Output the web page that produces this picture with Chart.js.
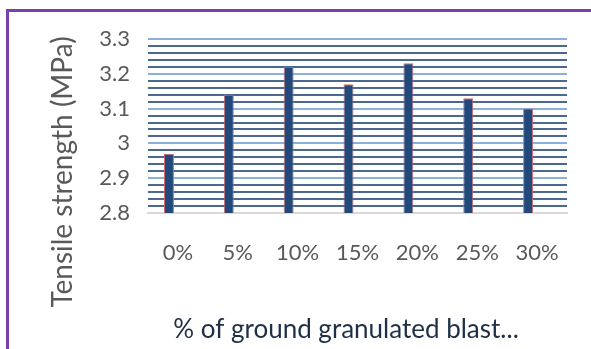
<!DOCTYPE html>
<html>
<head>
    <meta charset="utf-8">
    <title>Tensile strength</title>
    <script src="https://cdn.jsdelivr.net/npm/chart.js"></script>
</head>
<body style="margin:0; background-color:white;">
<div style="position:absolute; left:6px; top:9px; width:700px; height:500px; border-left:3px solid #7a40b0; border-top:3px solid #7a40b0;"></div>
<canvas id="myChart" width="591" height="349" style="position:absolute; left:0; top:0;"></canvas>
<script>
    const categories = ['0%', '5%', '10%', '15%', '20%', '25%', '30%'];
    const tensile = [2.97, 3.14, 3.22, 3.17, 3.23, 3.13, 3.10];
    const emptySeries = [null, null, null, null, null, null, null];
    const yTickLabels = ['2.8', '2.9', '3', '3.1', '3.2', '3.3'];
    const xTitle = '% of ground granulated blast...';
    const yTitle = 'Tensile strength (MPa)';

    const isMajor = v => Math.round(v * 100) % 10 === 0;

    // axis titles sit relative to the whole chart box (like the Excel original), not the plot area
    const axisTitles = {
        id: 'axisTitles',
        afterDraw(chart) {
            const c = chart.ctx;
            c.save();
            c.textAlign = 'center';
            c.textBaseline = 'middle';
            c.fillStyle = '#595959';
            c.font = '28px Lato';
            c.translate(63, 172);
            c.rotate(-Math.PI / 2);
            c.fillText(yTitle, 0, 0);
            c.restore();

            c.save();
            c.textAlign = 'center';
            c.textBaseline = 'middle';
            c.fillStyle = '#1f2f46';
            c.font = '26px Lato';
            c.fillText(xTitle, 346, 330);
            c.restore();
        }
    };

    const ctx = document.getElementById('myChart').getContext('2d');
    window.myChart = new Chart(ctx, {
        type: 'bar',
        data: {
            labels: categories,
            datasets: [{
                label: 'Tensile strength',
                data: tensile,
                backgroundColor: '#22497c',
                borderColor: '#d46a6a',
                borderWidth: 1,
                borderSkipped: false,
                categoryPercentage: 0.6,
                barPercentage: 0.556
            }, {
                label: '',
                data: emptySeries,
                categoryPercentage: 0.6,
                barPercentage: 0.556
            }]
        },
        options: {
            responsive: false,
            animation: false,
            layout: { padding: { left: 0, right: 24, top: 39, bottom: 0 } },
            plugins: { legend: { display: false }, tooltip: { enabled: false } },
            scales: {
                x: {
                    grid: { display: false },
                    border: { display: true, color: '#d9d9d9', width: 2 },
                    ticks: {
                        color: '#595959', padding: 19, maxRotation: 0, autoSkip: false,
                        font: { family: 'Lato', size: 22 }
                    },
                    afterFit: s => { s.height = 136; }
                },
                y: {
                    min: 2.8, max: 3.3,
                    border: { display: false },
                    grid: {
                        drawTicks: false,
                        lineWidth: 2,
                        color: c => {
                            const v = c.tick.value;
                            if (Math.abs(v - 2.8) < 1e-6) return '#d9d9d9';
                            return isMajor(v) ? '#8cb0dc' : '#4a6890';
                        }
                    },
                    ticks: {
                        stepSize: 0.02,
                        padding: 18,
                        color: '#595959',
                        autoSkip: false,
                        font: { family: 'Lato', size: 22 },
                        callback: v => isMajor(v) ? yTickLabels[Math.round((v - 2.8) * 10)] : ''
                    },
                    afterFit: s => { s.width = 148; }
                }
            }
        },
        plugins: [axisTitles]
    });
</script>
</body>
</html>
